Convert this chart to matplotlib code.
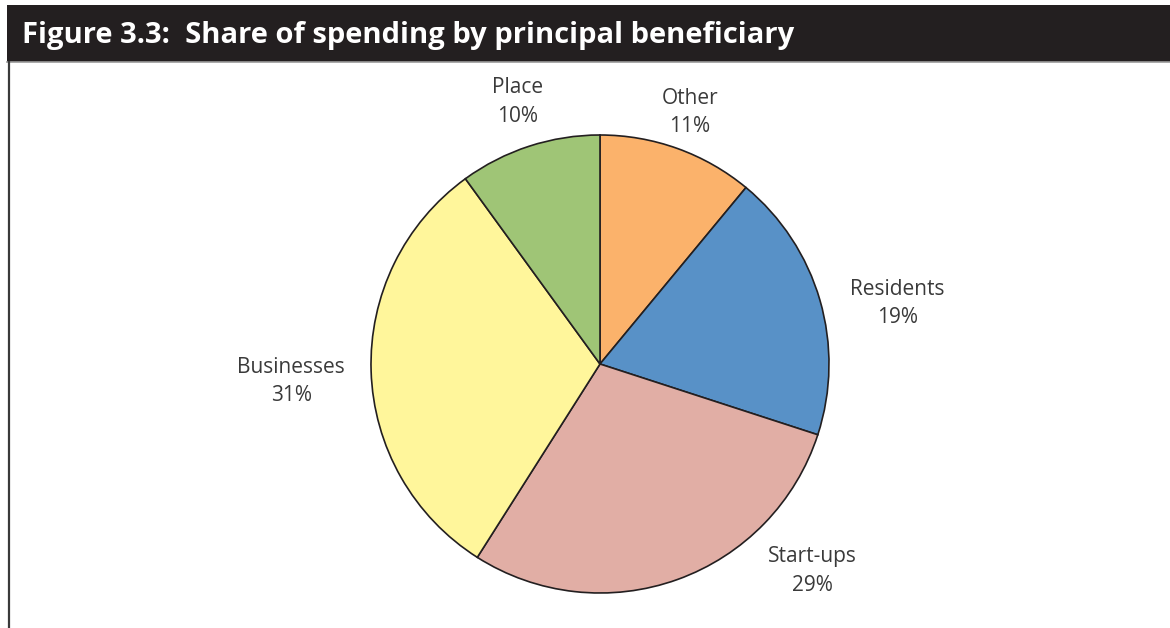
import matplotlib.pyplot as plt
from matplotlib.patches import Rectangle
from matplotlib.lines import Line2D

# Data
labels = ['Other', 'Residents', 'Start-ups', 'Businesses', 'Place']
shares = [11, 19, 29, 31, 10]
colors = ['#fbb26b', '#5891c7', '#e1aea5', '#fff69b', '#9fc576']

# label positions in pie-radius units (relative to centre)
label_pos = [(0.393, 1.098), (1.30, 0.264), (0.926, -0.904), (-1.349, -0.076), (-0.358, 1.144)]

W, H = 1170, 628
fig = plt.figure(figsize=(W / 100, H / 100), dpi=100)
fig.patch.set_facecolor('white')

# title bar
fig.patches.append(Rectangle((7 / W, 1 - 62 / H), 1 - 7 / W, 57 / H,
                             transform=fig.transFigure, facecolor='#231f20',
                             edgecolor='none', zorder=0))
fig.lines.append(Line2D([7 / W, 1], [1 - 62 / H, 1 - 62 / H], transform=fig.transFigure,
                        color='#9a9a9a', linewidth=1.2))
fig.lines.append(Line2D([8.5 / W, 8.5 / W], [0, 1 - 62 / H], transform=fig.transFigure,
                        color='#3a3a3a', linewidth=1.6))
fig.text(22 / W, 1 - 35 / H, 'Figure 3.3:  Share of spending by principal beneficiary',
         color='white', fontsize=21, fontweight='bold', family='Open Sans',
         ha='left', va='center')

# pie axes: centre at (600, 364) px, radius 229 px
R = 229.0
cx, cy = 600.0, 364.0
ax = fig.add_axes([0, 0, 1, 1])
ax.set_facecolor('none')

ax.pie(shares, colors=colors, startangle=90, counterclock=False, radius=1.0,
       center=(0, 0), frame=True,
       wedgeprops=dict(edgecolor='#231f20', linewidth=1.2))
ax.set_xlim(-cx / R, (W - cx) / R)
ax.set_ylim(-(H - cy) / R, cy / R)
ax.set_aspect('auto')
ax.axis('off')

for name, val, (lx, ly) in zip(labels, shares, label_pos):
    ax.text(lx, ly, f'{name}\n{val}%', ha='center', va='center', fontsize=15,
            color='#3a3a3a', family='Open Sans', linespacing=1.45)

fig.savefig('out.png', dpi=100)
